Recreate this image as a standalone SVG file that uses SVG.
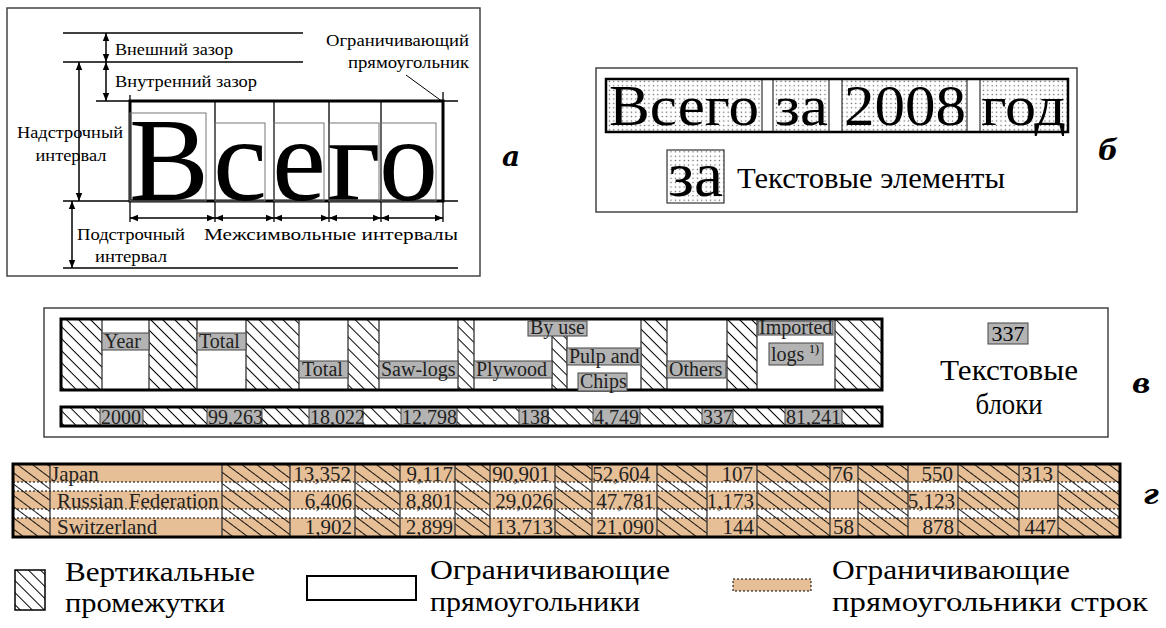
<svg xmlns="http://www.w3.org/2000/svg" width="1166" height="628" viewBox="0 0 1166 628">
<defs>
<style>
text{font-family:"Liberation Serif","DejaVu Serif",serif;fill:#000}
.t18{font-size:17px}
.lab{font-size:20px;fill:#222}
.num{font-size:21px;fill:#222}
.leg{font-size:28px}
.pl{font-size:28px;font-weight:bold;font-style:italic;font-family:"DejaVu Serif",serif}
.ln{stroke:#000;stroke-width:1.3;fill:none}
.thk{stroke:#000;stroke-width:3;fill:none}
.gbox{stroke:#777;stroke-width:1;fill:none}
.frame{stroke:#444;stroke-width:1.5;fill:none}
.gray{fill:#b3b3b3;stroke:#444;stroke-width:1}
.col{stroke:#333;stroke-width:1.3}
.arr{stroke:#000;stroke-width:1.5;fill:none;marker-start:url(#ah);marker-end:url(#ah)}
.dotb{stroke:#000;stroke-width:1;stroke-dasharray:2 2;fill:none}
.dotr{stroke:#000;stroke-width:1;stroke-dasharray:2 2;fill:#e6bf97}
</style>
<marker id="ah" viewBox="0 0 10 10" refX="10" refY="5" markerWidth="9" markerHeight="8" orient="auto-start-reverse" markerUnits="userSpaceOnUse"><path d="M0,1 L10,5 L0,9 z" fill="#000"/></marker>
<pattern id="hc" patternUnits="userSpaceOnUse" width="9" height="8.5" patternTransform="rotate(45)"><line x1="0" y1="0" x2="9" y2="0" stroke="#000" stroke-width="2"/></pattern>
<pattern id="hd" patternUnits="userSpaceOnUse" width="9" height="9" patternTransform="rotate(37)"><line x1="0" y1="0" x2="9" y2="0" stroke="#000" stroke-width="1.8"/></pattern>
<pattern id="dots" patternUnits="userSpaceOnUse" width="4.4" height="4.4"><rect width="4.4" height="4.4" fill="#fff"/><rect x="1.6" y="1.6" width="1.2" height="1.2" fill="#555"/></pattern>
</defs>
<rect width="1166" height="628" fill="#fff"/>

<!-- Panel a -->
<g id="panel-a">
<rect x="7" y="8" width="473" height="268" class="frame"/>
<line x1="63" y1="33" x2="303" y2="33" class="ln"/>
<line x1="63" y1="62" x2="303" y2="62" class="ln"/>
<line x1="96" y1="101" x2="458" y2="101" class="ln"/>
<line x1="63" y1="201" x2="458" y2="201" class="ln"/>
<line x1="63" y1="268" x2="458" y2="268" class="ln"/>
<line x1="130" y1="95" x2="130" y2="222" class="ln"/>
<line x1="443" y1="92" x2="443" y2="222" class="ln"/>
<line x1="215" y1="101" x2="215" y2="222" class="ln"/>
<line x1="274" y1="101" x2="274" y2="222" class="ln"/>
<line x1="329" y1="101" x2="329" y2="222" class="ln"/>
<line x1="381" y1="101" x2="381" y2="222" class="ln"/>
<rect x="130" y="101" width="313" height="100" class="thk"/>
<rect x="130" y="113" width="76" height="88" class="gbox"/>
<rect x="215" y="123" width="50" height="78" class="gbox"/>
<rect x="274" y="123" width="50" height="78" class="gbox"/>
<rect x="329" y="123" width="50" height="78" class="gbox"/>
<rect x="381" y="123" width="55" height="78" class="gbox"/>
<text x="129" y="200" font-size="119" textLength="80" lengthAdjust="spacingAndGlyphs">В</text>
<text x="213" y="200" font-size="119" textLength="54" lengthAdjust="spacingAndGlyphs">с</text>
<text x="272" y="200" font-size="119" textLength="54" lengthAdjust="spacingAndGlyphs">е</text>
<text x="327" y="200" font-size="119" textLength="54" lengthAdjust="spacingAndGlyphs">г</text>
<text x="379" y="200" font-size="119" textLength="59" lengthAdjust="spacingAndGlyphs">о</text>
<line x1="406" y1="75" x2="443" y2="102" stroke="#000" stroke-width="1"/>
<text x="115" y="55" class="t18" textLength="118" lengthAdjust="spacingAndGlyphs">Внешний зазор</text>
<text x="115" y="87" class="t18" textLength="142" lengthAdjust="spacingAndGlyphs">Внутренний зазор</text>
<text x="469" y="46" class="t18" text-anchor="end" textLength="143" lengthAdjust="spacingAndGlyphs">Ограничивающий</text>
<text x="469" y="68" class="t18" text-anchor="end" textLength="121" lengthAdjust="spacingAndGlyphs">прямоугольник</text>
<text x="70" y="138" class="t18" text-anchor="middle" textLength="106" lengthAdjust="spacingAndGlyphs">Надстрочный</text>
<text x="71" y="161" class="t18" text-anchor="middle" textLength="71" lengthAdjust="spacingAndGlyphs">интервал</text>
<text x="131" y="240" class="t18" text-anchor="middle" textLength="108" lengthAdjust="spacingAndGlyphs">Подстрочный</text>
<text x="131" y="262" class="t18" text-anchor="middle" textLength="72" lengthAdjust="spacingAndGlyphs">интервал</text>
<text x="204" y="240" class="t18" textLength="254" lengthAdjust="spacingAndGlyphs">Межсимвольные интервалы</text>
<text x="502" y="166" class="pl">а</text>
</g>

<!-- Panel b -->
<g id="panel-b">
<rect x="596" y="68" width="481" height="144" class="frame"/>
<rect x="606" y="79" width="462" height="53" fill="#fff"/>
<rect x="606" y="79" width="156" height="53" fill="url(#dots)" stroke="#333" stroke-width="1.2"/>
<rect x="773" y="79" width="56" height="53" fill="url(#dots)" stroke="#333" stroke-width="1.2"/>
<rect x="842" y="79" width="125" height="53" fill="url(#dots)" stroke="#333" stroke-width="1.2"/>
<rect x="980" y="79" width="88" height="53" fill="url(#dots)" stroke="#333" stroke-width="1.2"/>
<rect x="606" y="79" width="462" height="53" fill="none" stroke="#000" stroke-width="2.5"/>
<text x="609" y="125" font-size="56" textLength="150" lengthAdjust="spacingAndGlyphs">Всего</text>
<text x="775" y="125" font-size="56" textLength="53" lengthAdjust="spacingAndGlyphs">за</text>
<text x="844" y="125" font-size="56" textLength="122" lengthAdjust="spacingAndGlyphs">2008</text>
<text x="981" y="125" font-size="56" textLength="85" lengthAdjust="spacingAndGlyphs">год</text>
<rect x="667" y="150" width="57" height="53" fill="url(#dots)" stroke="#333" stroke-width="1.2"/>
<text x="668" y="196" font-size="64" textLength="55" lengthAdjust="spacingAndGlyphs">за</text>
<text x="737" y="188" font-size="29" textLength="268" lengthAdjust="spacingAndGlyphs">Текстовые элементы</text>
<text x="1098" y="160" class="pl">б</text>
</g>

<!-- Panel c -->
<g id="panel-c">
<rect x="44" y="308" width="1064" height="129" class="frame"/>
<rect x="61" y="319" width="821" height="71" fill="#fff"/>
<g fill="url(#hc)">
<rect x="61" y="319" width="41" height="71"/>
<rect x="149" y="319" width="48" height="71"/>
<rect x="246" y="319" width="53" height="71"/>
<rect x="348" y="319" width="31" height="71"/>
<rect x="458" y="319" width="16" height="71"/>
<rect x="552" y="336" width="15" height="54"/>
<rect x="641" y="319" width="26" height="71"/>
<rect x="727" y="319" width="30" height="71"/>
<rect x="835" y="319" width="47" height="71"/>
</g>
<g class="col">
<line x1="102" y1="319" x2="102" y2="390"/><line x1="149" y1="319" x2="149" y2="390"/>
<line x1="197" y1="319" x2="197" y2="390"/><line x1="246" y1="319" x2="246" y2="390"/>
<line x1="299" y1="319" x2="299" y2="390"/><line x1="348" y1="319" x2="348" y2="390"/>
<line x1="379" y1="319" x2="379" y2="390"/><line x1="458" y1="319" x2="458" y2="390"/>
<line x1="474" y1="319" x2="474" y2="390"/><line x1="552" y1="336" x2="552" y2="390"/>
<line x1="567" y1="336" x2="567" y2="390"/><line x1="641" y1="319" x2="641" y2="390"/>
<line x1="667" y1="319" x2="667" y2="390"/><line x1="727" y1="319" x2="727" y2="390"/>
<line x1="757" y1="319" x2="757" y2="390"/><line x1="835" y1="319" x2="835" y2="390"/>
</g>
<rect x="61" y="319" width="821" height="71" fill="none" stroke="#000" stroke-width="3"/>
<rect x="102" y="333" width="47" height="17" class="gray"/><text x="104" y="348" class="lab">Year</text>
<rect x="197" y="333" width="49" height="17" class="gray"/><text x="199" y="348" class="lab">Total</text>
<rect x="299" y="361" width="49" height="17" class="gray"/><text x="302" y="376" class="lab">Total</text>
<rect x="379" y="361" width="79" height="17" class="gray"/><text x="381" y="376" class="lab">Saw-logs</text>
<rect x="474" y="361" width="78" height="17" class="gray"/><text x="476" y="376" class="lab">Plywood</text>
<rect x="528" y="321" width="59" height="15" class="gray"/><text x="530" y="334" class="lab">By use</text>
<rect x="567" y="348" width="74" height="17" class="gray"/><text x="569" y="363" class="lab">Pulp and</text>
<rect x="578" y="373" width="49" height="18" class="gray"/><text x="580" y="388" class="lab">Chips</text>
<rect x="667" y="361" width="59" height="17" class="gray"/><text x="669" y="376" class="lab">Others</text>
<rect x="758" y="321" width="75" height="14" class="gray"/><text x="759" y="334" class="lab">Imported</text>
<rect x="769" y="343" width="54" height="22" class="gray"/><text x="771" y="361" class="lab">logs</text><text x="809" y="353" font-size="12" fill="#222">1)</text>

<rect x="61" y="407" width="821" height="19" fill="#fff"/>
<g fill="url(#hc)">
<rect x="61" y="407" width="39" height="19"/>
<rect x="143" y="407" width="64" height="19"/>
<rect x="262" y="407" width="47" height="19"/>
<rect x="363" y="407" width="38" height="19"/>
<rect x="457" y="407" width="62" height="19"/>
<rect x="548" y="407" width="45" height="19"/>
<rect x="640" y="407" width="62" height="19"/>
<rect x="733" y="407" width="52" height="19"/>
<rect x="842" y="407" width="40" height="19"/>
</g>
<rect x="100" y="407" width="43" height="19" class="gray"/><text x="101" y="424" class="lab">2000</text>
<rect x="207" y="407" width="55" height="19" class="gray"/><text x="208" y="424" class="lab">99,263</text>
<rect x="309" y="407" width="54" height="19" class="gray"/><text x="310" y="424" class="lab">18,022</text>
<rect x="401" y="407" width="56" height="19" class="gray"/><text x="402" y="424" class="lab">12,798</text>
<rect x="519" y="407" width="29" height="19" class="gray"/><text x="520" y="424" class="lab">138</text>
<rect x="593" y="407" width="47" height="19" class="gray"/><text x="594" y="424" class="lab">4,749</text>
<rect x="702" y="407" width="31" height="19" class="gray"/><text x="703" y="424" class="lab">337</text>
<rect x="785" y="407" width="57" height="19" class="gray"/><text x="786" y="424" class="lab">81,241</text>
<rect x="61" y="407" width="821" height="19" fill="none" stroke="#000" stroke-width="3"/>

<rect x="988" y="323" width="40" height="21" class="gray"/><text x="1008" y="341" font-size="22" fill="#222" text-anchor="middle">337</text>
<text x="1009" y="380" font-size="29" text-anchor="middle" textLength="138" lengthAdjust="spacingAndGlyphs">Текстовые</text>
<text x="1009" y="414" font-size="29" text-anchor="middle" textLength="67" lengthAdjust="spacingAndGlyphs">блоки</text>
<text x="1132" y="393" class="pl">в</text>
</g>

<!-- Panel d -->
<g id="panel-d">
<rect x="13" y="464" width="1107" height="73" fill="#fff"/>
<g fill="#e6bf97">
<rect x="13" y="464" width="1107" height="18"/>
<rect x="13" y="491" width="1107" height="18"/>
<rect x="13" y="518" width="1107" height="19"/>
</g>
<g fill="url(#hd)">
<rect x="13" y="464" width="37" height="73"/>
<rect x="222" y="464" width="68" height="73"/>
<rect x="355" y="464" width="45" height="73"/>
<rect x="455" y="464" width="35" height="73"/>
<rect x="555" y="464" width="37" height="73"/>
<rect x="657" y="464" width="50" height="73"/>
<rect x="757" y="464" width="73" height="73"/>
<rect x="858" y="464" width="50" height="73"/>
<rect x="958" y="464" width="61" height="73"/>
<rect x="1058" y="464" width="62" height="73"/>
</g>
<g class="dotb">
<line x1="13" y1="482" x2="1120" y2="482"/>
<line x1="13" y1="491" x2="1120" y2="491"/>
<line x1="13" y1="509" x2="1120" y2="509"/>
<line x1="13" y1="518" x2="1120" y2="518"/>
</g>
<g class="col">
<line x1="50" y1="464" x2="50" y2="537"/><line x1="222" y1="464" x2="222" y2="537"/>
<line x1="290" y1="464" x2="290" y2="537"/><line x1="355" y1="464" x2="355" y2="537"/>
<line x1="400" y1="464" x2="400" y2="537"/><line x1="455" y1="464" x2="455" y2="537"/>
<line x1="490" y1="464" x2="490" y2="537"/><line x1="555" y1="464" x2="555" y2="537"/>
<line x1="592" y1="464" x2="592" y2="537"/><line x1="657" y1="464" x2="657" y2="537"/>
<line x1="707" y1="464" x2="707" y2="537"/><line x1="757" y1="464" x2="757" y2="537"/>
<line x1="830" y1="464" x2="830" y2="537"/><line x1="858" y1="464" x2="858" y2="537"/>
<line x1="908" y1="464" x2="908" y2="537"/><line x1="958" y1="464" x2="958" y2="537"/>
<line x1="1019" y1="464" x2="1019" y2="537"/><line x1="1058" y1="464" x2="1058" y2="537"/>
</g>
<rect x="13" y="464" width="1107" height="73" fill="none" stroke="#000" stroke-width="3"/>
<text x="51" y="481" class="num">Japan</text>
<text x="57" y="508" class="num">Russian Federation</text>
<text x="57" y="534" class="num">Switzerland</text>
<g class="num" text-anchor="end">
<text x="351" y="481" class="num">13,352</text><text x="352" y="508" class="num">6,406</text><text x="352" y="534" class="num">1,902</text>
<text x="453" y="481" class="num">9,117</text><text x="453" y="508" class="num">8,801</text><text x="453" y="534" class="num">2,899</text>
<text x="550" y="481" class="num">90,901</text><text x="553" y="508" class="num">29,026</text><text x="553" y="534" class="num">13,713</text>
<text x="650" y="481" class="num">52,604</text><text x="654" y="508" class="num">47,781</text><text x="654" y="534" class="num">21,090</text>
<text x="753" y="481" class="num">107</text><text x="754" y="508" class="num">1,173</text><text x="754" y="534" class="num">144</text>
<text x="853" y="481" class="num">76</text><text x="854" y="534" class="num">58</text>
<text x="953" y="481" class="num">550</text><text x="955" y="508" class="num">5,123</text><text x="954" y="534" class="num">878</text>
<text x="1053" y="481" class="num">313</text><text x="1056" y="534" class="num">447</text>
</g>
<text x="1143" y="504" class="pl">г</text>
</g>

<!-- Legend -->
<g id="legend">
<g id="legend-gap">
<rect x="15" y="570" width="30" height="40" fill="url(#hc)" stroke="#000" stroke-width="1.5"/>
<text x="65" y="581" class="leg" textLength="190" lengthAdjust="spacingAndGlyphs">Вертикальные</text>
<text x="65" y="612" class="leg" textLength="160" lengthAdjust="spacingAndGlyphs">промежутки</text>
</g>
<g id="legend-box">
<rect x="307" y="576" width="109" height="24" fill="#fff" stroke="#000" stroke-width="2"/>
<text x="430" y="579" class="leg" textLength="240" lengthAdjust="spacingAndGlyphs">Ограничивающие</text>
<text x="430" y="611" class="leg" textLength="210" lengthAdjust="spacingAndGlyphs">прямоугольники</text>
</g>
<g id="legend-row">
<rect x="733" y="579" width="78" height="12" class="dotr"/>
<text x="832" y="579" class="leg" textLength="238" lengthAdjust="spacingAndGlyphs">Ограничивающие</text>
<text x="832" y="611" class="leg" textLength="316" lengthAdjust="spacingAndGlyphs">прямоугольники строк</text>
</g>
</g>

<!-- Connectors (dimension arrows) -->
<g id="connectors">
<line x1="106" y1="33" x2="106" y2="62" class="arr"/>
<line x1="106" y1="62" x2="106" y2="101" class="arr"/>
<line x1="79" y1="62" x2="79" y2="201" class="arr"/>
<line x1="72" y1="201" x2="72" y2="268" class="arr"/>
<line x1="130" y1="218" x2="215" y2="218" class="arr"/>
<line x1="215" y1="218" x2="274" y2="218" class="arr"/>
<line x1="274" y1="218" x2="329" y2="218" class="arr"/>
<line x1="329" y1="218" x2="381" y2="218" class="arr"/>
<line x1="381" y1="218" x2="443" y2="218" class="arr"/>
</g>
</svg>
